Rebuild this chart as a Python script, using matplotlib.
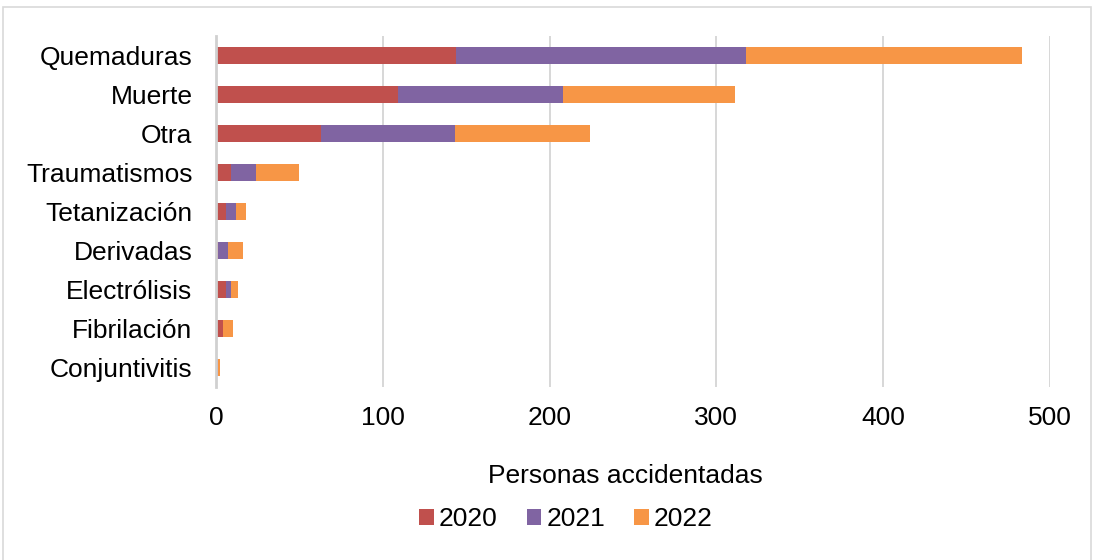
import matplotlib
matplotlib.use("Agg")
import matplotlib.pyplot as plt
from matplotlib.patches import Rectangle

# data (persons injured, by type of injury)
categories = ["Quemaduras", "Muerte", "Otra", "Traumatismos", "Tetanización",
              "Derivadas", "Electrólisis", "Fibrilación", "Conjuntivitis"]
y2020 = [144, 109, 63, 9, 6, 1, 6, 4, 0]
y2021 = [174, 99, 80, 15, 6, 6, 3, 0, 1.4]
y2022 = [165, 103, 81, 26, 6, 9, 4, 6, 1]
years = ["2020", "2021", "2022"]
colors = ["#C0504D", "#8064A2", "#F79646"]

plt.rcParams["font.family"] = ["Liberation Sans", "DejaVu Sans"]
plt.rcParams["font.size"] = 19

fig = plt.figure(figsize=(10.94, 5.6), dpi=100)
ax = fig.add_axes([216 / 1094, 1 - 387 / 560, (1050 - 216) / 1094, 351 / 560])

pos = list(range(len(categories)))
left = [0] * len(categories)
for vals, lab, col in zip([y2020, y2021, y2022], years, colors):
    ax.barh(pos, vals, left=left, height=0.42, color=col, label=lab, zorder=3)
    left = [a + b for a, b in zip(left, vals)]

ax.set_xlim(0, 500)
ax.set_ylim(len(categories) - 0.5, -0.5)
ax.set_yticks(pos)
ax.set_yticklabels(categories)
ax.set_xticks([0, 100, 200, 300, 400, 500])
ax.tick_params(axis="y", length=0, pad=17)
ax.tick_params(axis="x", length=0, pad=14)
ax.grid(axis="x", color="#d4d4d4", linewidth=1.3, zorder=0)
for s in ["top", "right", "bottom"]:
    ax.spines[s].set_visible(False)
ax.spines["left"].set_color("#d0d0d0")
ax.spines["left"].set_linewidth(2)
ax.spines["left"].set_zorder(4)

fig.text(625 / 1094, 1 - 476 / 560, "Personas accidentadas", ha="center", va="center")
fig.legend(loc="center", bbox_to_anchor=(566 / 1094, 1 - 519 / 560), ncol=3,
           frameon=False, handlelength=0.55, handleheight=0.55, handletextpad=0.2,
           columnspacing=1.1, borderaxespad=0)

# light frame around the chart area
fig.patches.append(Rectangle((3 / 1094, -0.01), 1088 / 1094, 1 - 7 / 560 + 0.01,
                             transform=fig.transFigure, fill=False,
                             edgecolor="#d9d9d9", linewidth=1.2))

fig.savefig("out.png", dpi=100)
